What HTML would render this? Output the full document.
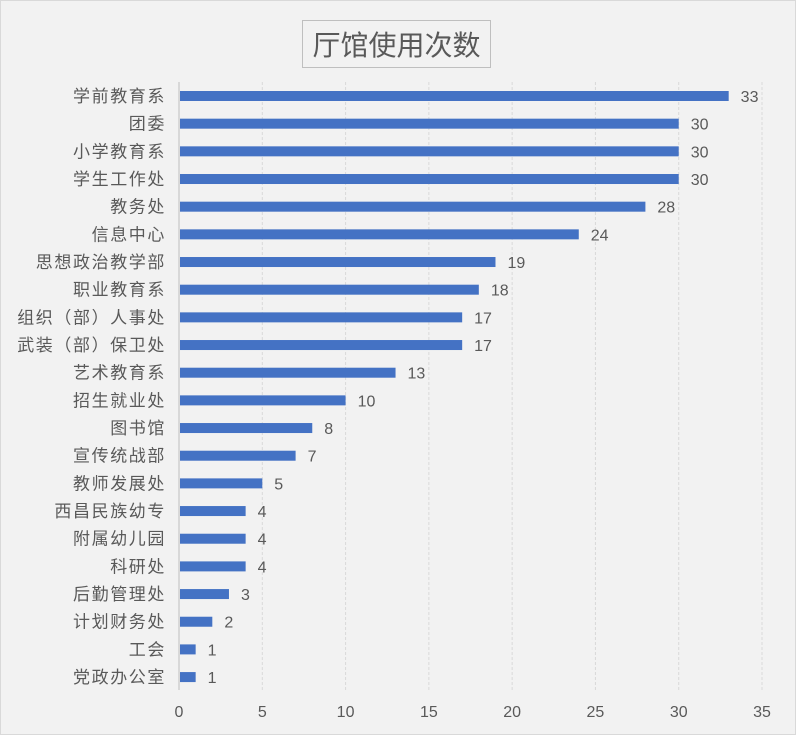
<!DOCTYPE html>
<html><head><meta charset="utf-8"><style>
body{margin:0;background:#fff}
svg text{font-family:"Liberation Sans","Noto Sans CJK SC",sans-serif;fill:#595959}
</style></head><body>
<svg width="796" height="735" xmlns="http://www.w3.org/2000/svg">
<rect x="0.5" y="0.5" width="795" height="734" fill="#f2f2f2" stroke="#d9d9d9"/>
<rect x="302.5" y="20.5" width="188" height="47" fill="#f2f2f2" stroke="#bfbfbf"/>
<text x="396.5" y="55" font-size="28" text-anchor="middle">厅馆使用次数</text>
<g id="g"></g>
</svg>
<script>
var d=[["学前教育系",33],["团委",30],["小学教育系",30],["学生工作处",30],["教务处",28],["信息中心",24],["思想政治教学部",19],["职业教育系",18],["组织（部）人事处",17],["武装（部）保卫处",17],["艺术教育系",13],["招生就业处",10],["图书馆",8],["宣传统战部",7],["教师发展处",5],["西昌民族幼专",4],["附属幼儿园",4],["科研处",4],["后勤管理处",3],["计划财务处",2],["工会",1],["党政办公室",1]];
var s='',x0=179,u=(762-179)/35;
for(var i=1;i<=7;i++){var x=x0+i*5*u;s+='<line x1="'+x+'" y1="82" x2="'+x+'" y2="690" stroke="#d9d9d9" stroke-dasharray="3,2"/>';}
s+='<line x1="179" y1="82" x2="179" y2="690" stroke="#bfbfbf"/>';
for(var i=0;i<=7;i++){s+='<text x="'+(x0+i*5*u)+'" y="717" font-size="16" text-anchor="middle">'+(i*5)+'</text>';}
d.forEach(function(r,i){var y=96+i*27.67;var w=r[1]*u;
s+='<rect x="180" y="'+(y-5)+'" width="'+(w-1)+'" height="10" fill="#4472c4"/>';
s+='<text x="166" y="'+(y+6)+'" font-size="17" letter-spacing="1.6" text-anchor="end">'+r[0]+'</text>';
s+='<text x="'+(x0+w+12)+'" y="'+(y+6)+'" font-size="16">'+r[1]+'</text>';});
document.getElementById('g').innerHTML=s;
</script>
</body></html>
